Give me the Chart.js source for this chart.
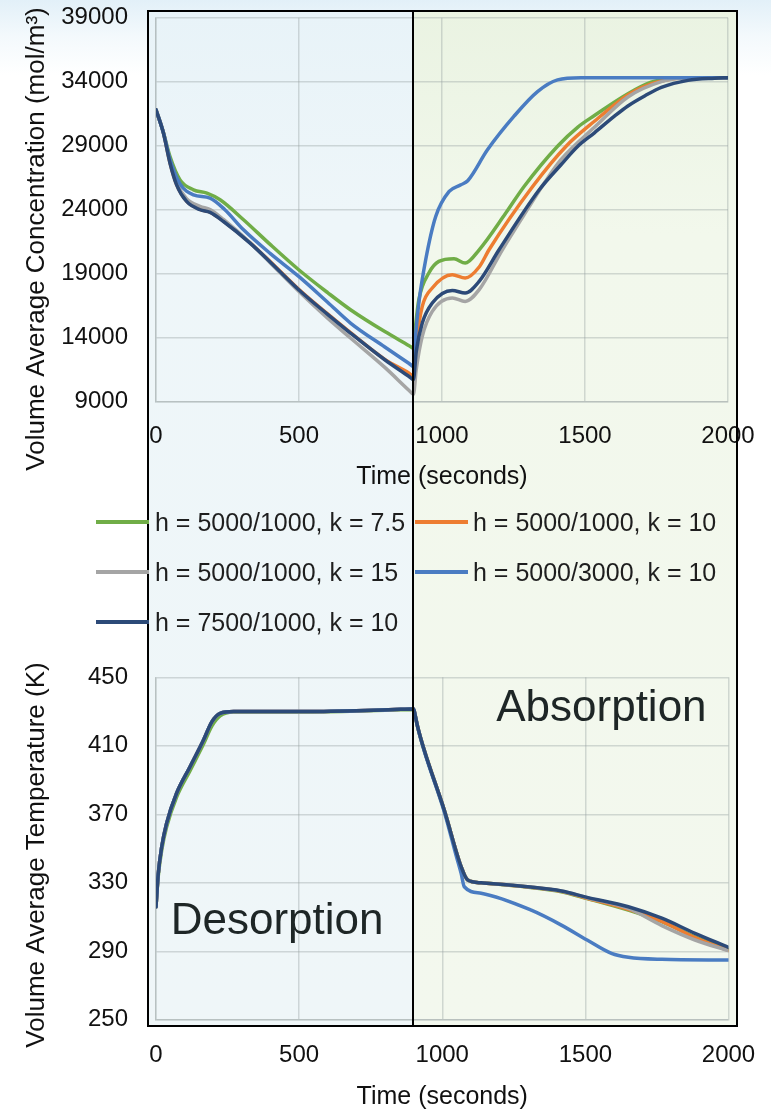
<!DOCTYPE html>
<html>
<head>
<meta charset="utf-8">
<script src="https://cdn.jsdelivr.net/npm/chart.js@4.4.1/dist/chart.umd.min.js"></script>
<style>
html,body{margin:0;padding:0;width:771px;height:1111px;overflow:hidden;}
body{background:linear-gradient(to bottom,#e2f0f8 0px,#f3f9fc 35px,#ffffff 75px);font-family:"Liberation Sans",Arial,sans-serif;}
#stage{position:relative;width:771px;height:1111px;}
.abs{position:absolute;}
canvas{position:absolute;left:0;z-index:2;}
#bgL{z-index:0;background:linear-gradient(to bottom,#e8f3f8 0%,#eef6f9 20%,#eff6f8 100%);}
#bgR{z-index:0;background:linear-gradient(to bottom,#eaf3e2 0%,#f2f8ec 22%,#f3f8ee 100%);}
#box{z-index:3;border:2px solid #000;box-sizing:border-box;}
#divider{z-index:3;background:#000;width:2px;}
.lg-line{position:absolute;height:4px;z-index:4;}
.lg-text{position:absolute;z-index:4;font-size:25px;color:#1e1e1e;white-space:nowrap;line-height:30px;}
</style>
</head>
<body>
<div id="stage">
  <div id="bgL" class="abs"></div>
  <div id="bgR" class="abs"></div>
  <canvas id="c1" width="771" height="500" style="top:0px"></canvas>
  <canvas id="c2" width="771" height="480" style="top:640px"></canvas>
  <div id="box" class="abs"></div>
  <div id="divider" class="abs"></div>
  <div id="legend"></div>
</div>
<script>
// ---------- series meta ----------
const seriesLabels = ['h = 5000/1000, k = 7.5','h = 5000/1000, k = 10','h = 5000/1000, k = 15','h = 5000/3000, k = 10','h = 7500/1000, k = 10'];
const seriesColors = ['#70ad47','#ed7d31','#a5a5a5','#4a7cc2','#2c4a78'];
const seriesOrder  = [5,4,3,2,1];
const xTicks = [0,500,1000,1500,2000];
const concTicks = [9000,14000,19000,24000,29000,34000,39000];
const tempTicks = [250,290,330,370,410,450];
const switchTime = 900;
const concTitle = 'Volume Average Concentration (mol/m\u00B3)';
const tempTitle = 'Volume Average Temperature (K)';
const xTitle = 'Time (seconds)';
const phaseLabels = ['Desorption','Absorption'];

// ---------- concentration (mol/m3) ----------
const concTimeGreen = [0,25,49,84,131,178,224,306,400,499,600,680,800,885,900,908,919,954,989,1042,1081,1130,1223,1287,1404,1475,1533,1650,1731,1800,1860,2000];
const concGreen     = [31800,30100,28140,26320,25540,25280,24760,23200,21250,19290,17500,16160,14450,13350,13150,15000,16950,19030,19940,20150,19810,20850,23720,25800,28950,30450,31350,33050,33950,34250,34310,34310];

const concTimeOrange = [0,26,49,72,107,154,189,236,329,400,499,600,680,800,885,900,910,931,966,1036,1081,1130,1165,1317,1434,1533,1650,1700,1767,1830,2000];
const concOrange     = [31800,30000,27650,25960,24660,24010,23800,23090,21400,19910,17760,15830,14370,12280,11200,10950,13500,16420,17860,18900,18640,19500,20870,25800,28950,30900,32950,33550,34050,34270,34310];

const concTimeGray = [0,26,49,72,107,154,189,236,329,400,499,600,680,800,885,900,910,931,966,1036,1081,1130,1211,1300,1360,1416,1533,1650,1767,1850,2000];
const concGray     = [31800,29980,27700,26050,24850,24250,24000,23220,21400,19820,17600,15500,13950,11650,9850,9550,11500,14080,16030,17080,16810,17730,20850,24050,26150,27900,30430,32800,34000,34280,34310];

const concTimeBlue = [0,26,49,84,131,189,240,306,400,499,600,680,800,885,900,908,919,943,978,1025,1066,1090,1159,1252,1334,1404,1486,2000];
const concBlue     = [31800,30000,27900,26000,25150,24890,24000,22410,20550,18770,16750,15120,13250,11960,11730,14200,16690,20070,23450,25410,25930,26250,28670,31300,33220,34140,34310,34310];

const concTimeNavy = [0,26,49,72,107,154,189,236,329,400,499,600,680,800,885,900,910,931,966,1036,1081,1130,1200,1340,1416,1475,1533,1603,1650,1710,1767,1860,1953,2000];
const concNavy     = [31800,29970,27620,25930,24630,23980,23770,23060,21370,19880,17730,15800,14340,12250,10940,10700,12900,15120,16690,17670,17470,18380,20870,25540,27500,28950,30000,31300,32100,32900,33550,34100,34270,34310];

// ---------- temperature (K) ----------
const tempTimeGreen = [0,8,20,37,72,119,166,195,224,271,504,700,855,900,906,914,937,1007,1066,1089,1136,1308,1416,1506,1650,1767,1883,2000];
const tempGreen     = [316,334,349,362.5,380,395.5,411,421.5,427.5,429.7,429.8,430.3,431,431.2,427.2,421,407.5,372.5,339.4,331.6,330,327.3,324.8,320.8,314,307.3,298.5,291];

const tempTimeOrange = [0,8,20,37,72,119,166,195,224,271,504,700,855,900,906,914,937,1007,1066,1089,1136,1308,1416,1506,1650,1767,1883,2000];
const tempOrange     = [316,335.5,351,364.7,382.3,397.8,413.4,424,429,430,430,430.5,431.3,431.5,427.4,421.2,407.5,372.5,339.4,331.6,330,327.4,325,321,314.5,307.5,298,290.5];

const tempTimeGray = [0,8,20,37,72,119,166,195,224,271,504,700,855,900,906,914,937,1007,1066,1089,1136,1308,1416,1506,1650,1767,1883,2000];
const tempGray     = [316,335.5,351,364.7,382.3,397.8,413.4,424,429,430,430,430.5,431.3,431.5,427.4,421.2,407.5,372.5,339.4,331.6,330,327.5,325.2,321.3,315,305,296.6,290.4];

const tempTimeBlue = [0,8,20,37,72,119,166,195,224,271,504,700,855,900,906,914,937,1007,1050,1066,1077,1136,1311,1416,1506,1591,1650,1767,2000];
const tempBlue     = [316,335.5,351,364.7,382.3,397.8,413.4,424,429,430,430,430.5,431.3,431.5,427.2,421,407,371.5,345,335.5,327.7,323.9,314,305.3,296.6,288.8,286.5,285.3,284.9];

const tempTimeNavy = [0,8,20,37,72,119,166,195,224,271,504,700,855,900,906,914,937,1007,1066,1089,1136,1308,1416,1506,1650,1767,1883,2000];
const tempNavy     = [316,335.5,351,364.7,382.3,397.8,413.4,424,429,430,430,430.5,431.3,431.5,427.4,421.2,407.5,372.5,339.4,331.6,330,327.5,325.2,321.5,316,309.3,300.5,292.3];

// ---------- build ----------
const pts = (ts, vs) => ts.map((t, i) => ({x: t, y: vs[i]}));
const concSets = [[concTimeGreen,concGreen],[concTimeOrange,concOrange],[concTimeGray,concGray],[concTimeBlue,concBlue],[concTimeNavy,concNavy]];
const tempSets = [[tempTimeGreen,tempGreen],[tempTimeOrange,tempOrange],[tempTimeGray,tempGray],[tempTimeBlue,tempBlue],[tempTimeNavy,tempNavy]];

function makeDatasets(sets){
  return sets.map((s, i) => ({
    label: seriesLabels[i],
    data: pts(s[0], s[1]),
    borderColor: seriesColors[i],
    backgroundColor: seriesColors[i],
    borderWidth: 3.5,
    pointRadius: 0,
    fill: false,
    cubicInterpolationMode: 'monotone',
    order: seriesOrder[i],
    borderCapStyle: 'round',
    borderJoinStyle: 'round'
  }));
}

const FONT = '"Liberation Sans", Arial, sans-serif';
const GRID = 'rgba(150,160,160,0.38)';

const overlayText = {
  id: 'overlayText',
  afterDraw(chart, args, o) {
    const ctx = chart.ctx;
    if (o.yTitle) {
      ctx.save();
      ctx.font = '26px ' + FONT;
      ctx.fillStyle = '#111';
      ctx.translate(o.yTitle.x, o.yTitle.y);
      ctx.rotate(-Math.PI / 2);
      ctx.textAlign = 'center';
      ctx.textBaseline = 'alphabetic';
      ctx.fillText(o.yTitle.text, 0, 0);
      ctx.restore();
    }
    (o.labels || []).forEach(l => {
      ctx.save();
      ctx.font = '44px ' + FONT;
      ctx.fillStyle = '#1e2626';
      ctx.textAlign = 'center';
      ctx.textBaseline = 'alphabetic';
      ctx.fillText(l.text, chart.scales.x.getPixelForValue(l.t), chart.scales.y.getPixelForValue(l.v));
      ctx.restore();
    });
  }
};

function makeOptions(cfg){
  return {
    responsive: false,
    animation: false,
    devicePixelRatio: 1,
    layout: {padding: cfg.padding},
    plugins: {
      legend: {display: false},
      tooltip: {enabled: false},
      overlayText: cfg.overlay
    },
    scales: {
      x: {
        type: 'linear', min: 0, max: 2000,
        afterBuildTicks: s => { s.ticks = xTicks.map(v => ({value: v})); },
        afterFit: s => { s.height = cfg.xHeight; s.paddingLeft = 0; s.paddingRight = 0; },
        grid: {color: GRID, lineWidth: 1.5, drawTicks: false},
        border: {color: GRID, width: 1.5},
        ticks: {font: {family: FONT, size: 24}, color: '#111', padding: 21, maxRotation: 0, callback: v => String(v)},
        title: {display: true, text: xTitle, font: {family: FONT, size: 25}, color: '#111', padding: {top: 0, bottom: 0}}
      },
      y: {
        type: 'linear', min: cfg.yMin, max: cfg.yMax,
        afterBuildTicks: s => { s.ticks = cfg.yTicks.map(v => ({value: v})); },
        afterFit: s => { s.width = 156; s.paddingTop = 0; s.paddingBottom = 0; },
        grid: {color: GRID, lineWidth: 1.5, drawTicks: false},
        border: {color: GRID, width: 1.5},
        ticks: {font: {family: FONT, size: 24}, color: '#111', padding: 28, callback: v => String(v)}
      }
    }
  };
}

const chart1 = new Chart(document.getElementById('c1'), {
  type: 'line',
  data: {datasets: makeDatasets(concSets)},
  options: makeOptions({
    padding: {top: 17.7, right: 43, bottom: 7.4, left: 0},
    xHeight: 91.3, yMin: 9000, yMax: 39000, yTicks: concTicks,
    overlay: {yTitle: {text: concTitle, x: 44, y: 239}, labels: []}
  }),
  plugins: [overlayText]
});

const chart2 = new Chart(document.getElementById('c2'), {
  type: 'line',
  data: {datasets: makeDatasets(tempSets)},
  options: makeOptions({
    padding: {top: 37.3, right: 42.5, bottom: 8, left: 0},
    xHeight: 92.2, yMin: 250, yMax: 450, yTicks: tempTicks,
    overlay: {yTitle: {text: tempTitle, x: 44, y: 215},
              labels: [{text: phaseLabels[0], t: 423, v: 300}, {text: phaseLabels[1], t: 1556, v: 424.5}]}
  }),
  plugins: [overlayText]
});

// ---------- frame, phase backgrounds, divider ----------
const boxL = 147, boxT = 10, boxR = 738, boxB = 1027;
const xs = chart1.scales.x.getPixelForValue(switchTime);
function place(id, l, t, w, h){ const e = document.getElementById(id); e.style.left = l+'px'; e.style.top = t+'px'; e.style.width = w+'px'; e.style.height = h+'px'; }
place('bgL', boxL, boxT, xs - boxL, boxB - boxT);
place('bgR', xs, boxT, boxR - xs, boxB - boxT);
place('box', boxL, boxT, boxR - boxL, boxB - boxT);
place('divider', xs - 1, boxT, 2, boxB - boxT);

// ---------- legend ----------
const legendRows = [522, 572, 622];
const legendCols = [{line: 96, text: 155}, {line: 415, text: 473}];
const lg = document.getElementById('legend');
seriesLabels.forEach((lab, i) => {
  const r = Math.floor(i / 2), c = i % 2;
  const cy = legendRows[r];
  const ln = document.createElement('div');
  ln.className = 'lg-line';
  ln.style.left = legendCols[c].line + 'px';
  ln.style.width = '53px';
  ln.style.top = (cy - 2) + 'px';
  ln.style.background = seriesColors[i];
  lg.appendChild(ln);
  const tx = document.createElement('div');
  tx.className = 'lg-text';
  tx.style.left = legendCols[c].text + 'px';
  tx.style.top = (cy - 15) + 'px';
  tx.textContent = lab;
  lg.appendChild(tx);
});
</script>
</body>
</html>
